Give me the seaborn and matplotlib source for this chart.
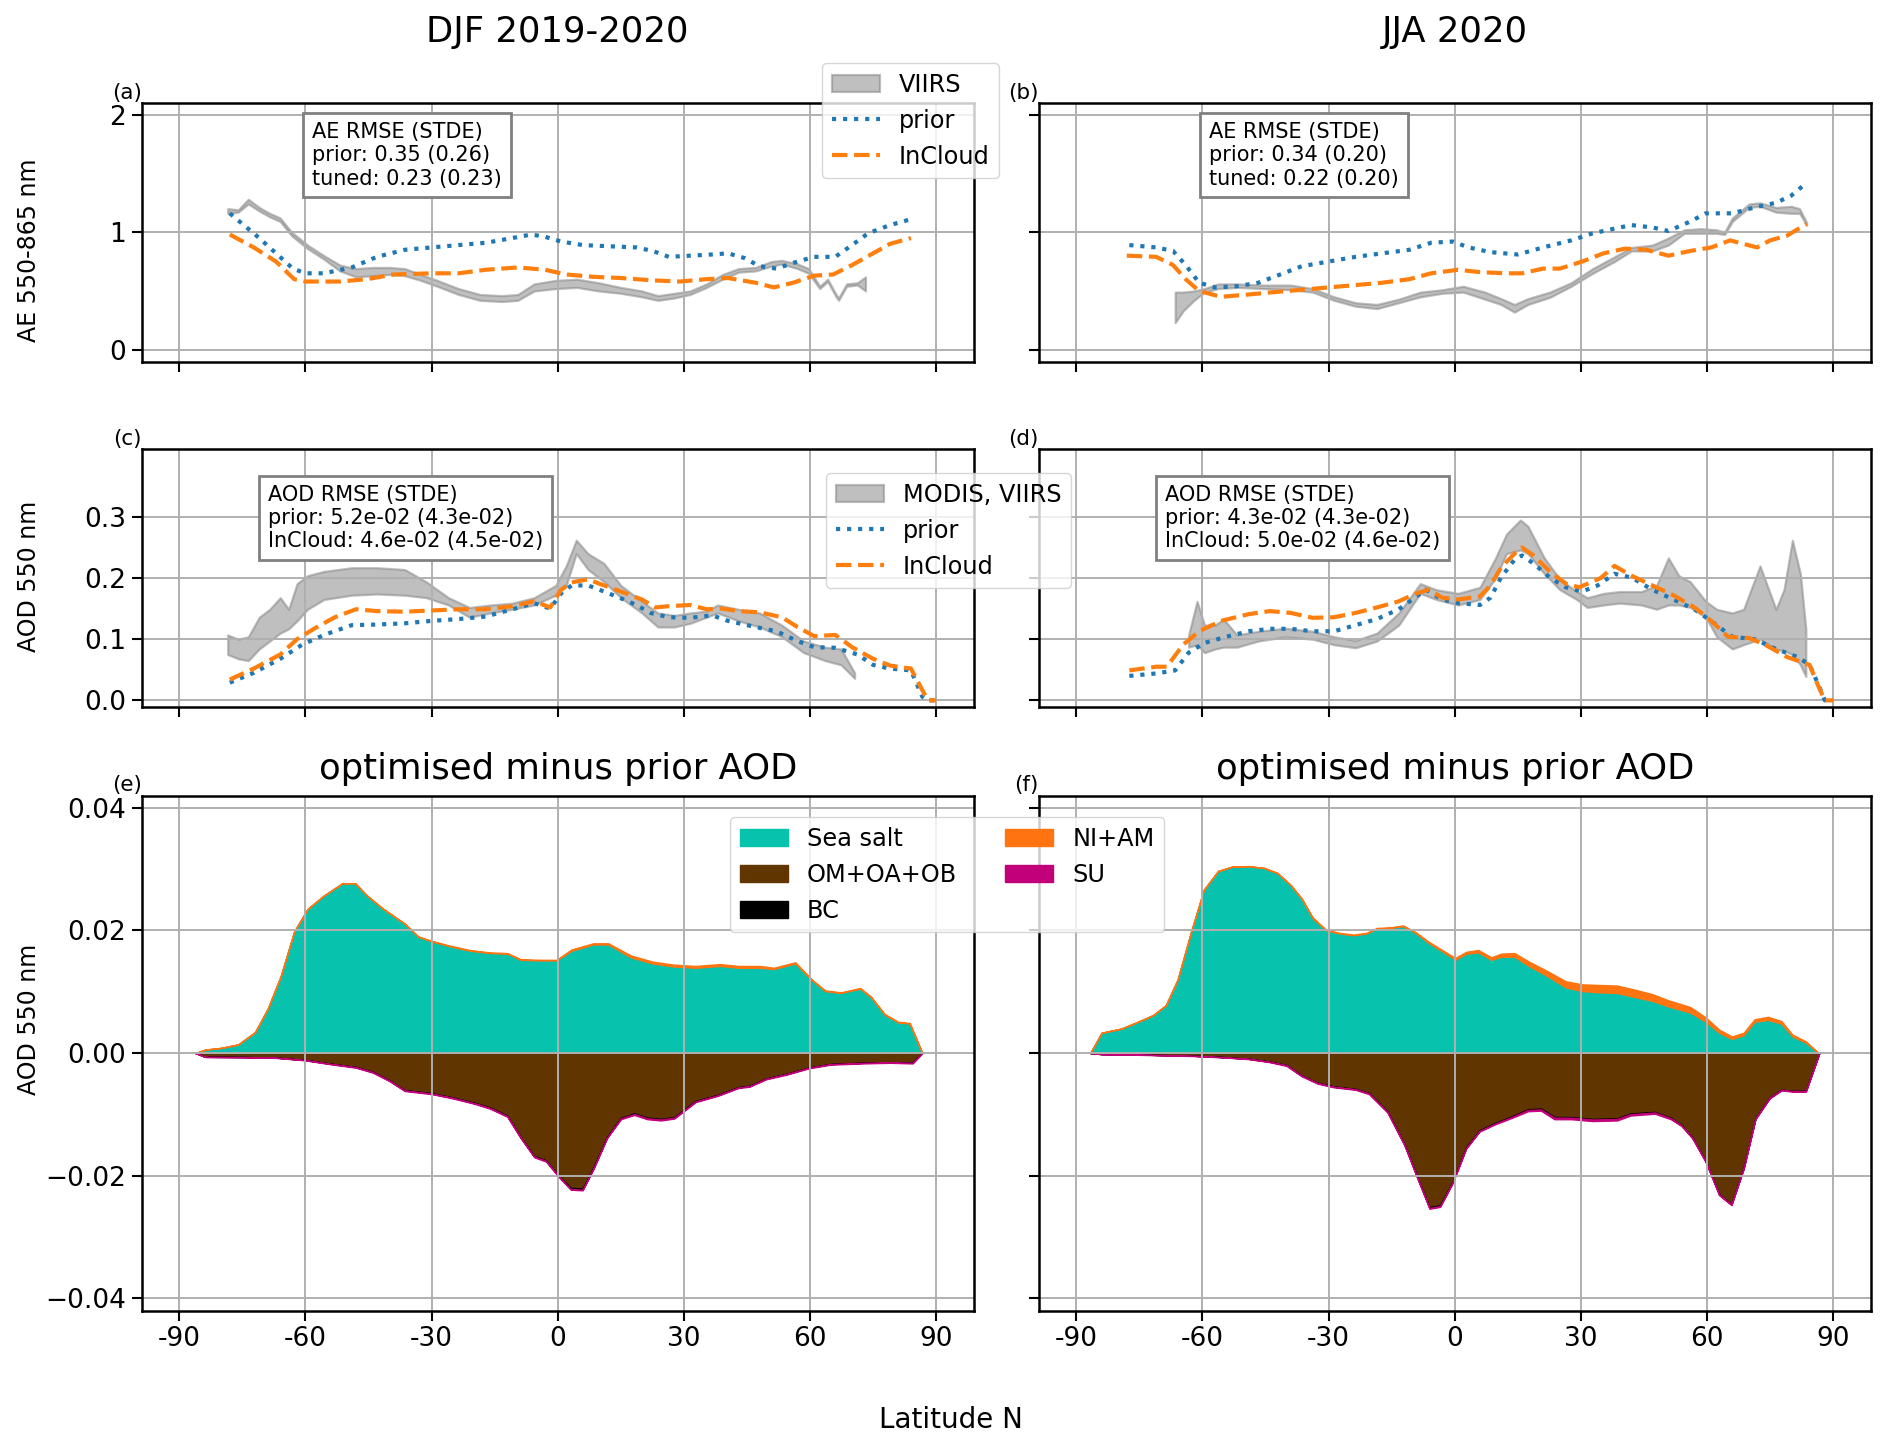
import numpy as np
import matplotlib
matplotlib.use("Agg")
import matplotlib.pyplot as plt
import seaborn as sns

# ---------------- data ----------------
lat_ticks = [-90, -60, -30, 0, 30, 60, 90]
lat_tick_labels = ["-90", "-60", "-30", "0", "30", "60", "90"]

# (a) DJF AE
ae_djf_prior_lat = [-78, -71, -63, -60, -55.6, -49, -43, -36.4, -30, -23.6, -17, -10.8, -6.3, -3, 0.8, 6, 12.3,
                    18.7, 22.6, 26.4, 31.5, 36.7, 40.5, 44.4, 48, 52, 57, 61, 66, 70, 73.8, 79, 84]
ae_djf_prior = [1.16, 0.95, 0.69, 0.65, 0.65, 0.70, 0.79, 0.85, 0.87, 0.89, 0.91, 0.95, 0.98, 0.96, 0.92, 0.89, 0.88,
                0.87, 0.84, 0.79, 0.80, 0.81, 0.82, 0.78, 0.71, 0.69, 0.75, 0.79, 0.79, 0.89, 0.99, 1.06, 1.11]
ae_djf_incloud_lat = [-78, -72.3, -67, -62.7, -60, -51.8, -45.4, -39, -30, -23.6, -17.2, -9.5, -3, 2, 8.5, 15, 22.6,
                      29, 35.4, 40.5, 47, 51.4, 56, 61, 65.5, 70, 75, 79, 84]
ae_djf_incloud = [0.98, 0.87, 0.75, 0.60, 0.58, 0.58, 0.60, 0.64, 0.65, 0.65, 0.68, 0.70, 0.68, 0.64, 0.62, 0.61, 0.59,
                  0.58, 0.60, 0.61, 0.57, 0.53, 0.57, 0.63, 0.64, 0.72, 0.82, 0.90, 0.95]
viirs_djf_lat = [-78.5, -76, -73.6, -71, -68.5, -66, -63.3, -59.5, -55.6, -51.8, -48, -44, -40, -36.4, -32.6, -28.7,
                 -23.6, -18.5, -13.3, -9.5, -5.6, -0.5, 4.6, 9.7, 15, 20, 23.8, 27.7, 31.5, 35.4, 39.2, 43, 47, 50.8,
                 53.3, 57, 59.7, 62.3, 64.2, 66.2, 66.8, 68.7, 71.3, 73.2]
viirs_djf_lo = [1.16, 1.17, 1.24, 1.18, 1.13, 1.09, 0.97, 0.86, 0.77, 0.67, 0.62, 0.63, 0.64, 0.63, 0.59, 0.54,
                0.47, 0.42, 0.41, 0.42, 0.50, 0.52, 0.53, 0.50, 0.48, 0.45, 0.42, 0.44, 0.47, 0.53, 0.60, 0.66, 0.67,
                0.71, 0.73, 0.69, 0.65, 0.52, 0.58, 0.45, 0.42, 0.54, 0.55, 0.50]
viirs_djf_hi = [1.20, 1.19, 1.28, 1.21, 1.16, 1.12, 1.00, 0.89, 0.80, 0.72, 0.69, 0.70, 0.70, 0.69, 0.64, 0.59,
                0.52, 0.47, 0.46, 0.47, 0.56, 0.59, 0.60, 0.57, 0.53, 0.50, 0.46, 0.48, 0.50, 0.56, 0.64, 0.69, 0.70,
                0.75, 0.76, 0.73, 0.69, 0.54, 0.60, 0.47, 0.44, 0.56, 0.57, 0.62]

# (b) JJA AE
ae_jja_prior_lat = [-77.4, -71, -67, -64, -60.8, -57, -51.8, -46.7, -41.5, -36.4, -30, -23.6, -17.2, -10.8, -5.6,
                    -0.5, 3.3, 8.5, 15, 21, 27.7, 32.8, 38, 42, 47, 50.8, 56, 59.7, 66, 71.3, 76.4, 80, 83.7]
ae_jja_prior = [0.89, 0.87, 0.84, 0.72, 0.57, 0.53, 0.54, 0.57, 0.64, 0.71, 0.75, 0.79, 0.82, 0.85, 0.91, 0.92, 0.87,
                0.83, 0.81, 0.87, 0.93, 0.99, 1.03, 1.06, 1.04, 1.01, 1.09, 1.16, 1.16, 1.21, 1.25, 1.31, 1.42]
ae_jja_incloud_lat = [-78, -71, -67, -64, -60.8, -55.6, -49, -43, -36.4, -30, -23.6, -17.2, -10.8, -5.6, 0.8, 6,
                      12.3, 16, 21, 25, 30.3, 35.4, 40.5, 45.6, 50.8, 56, 61, 65.5, 68.7, 71.9, 75, 79, 83.7]
ae_jja_incloud = [0.80, 0.79, 0.72, 0.60, 0.50, 0.45, 0.47, 0.49, 0.51, 0.53, 0.55, 0.57, 0.60, 0.65, 0.68, 0.66,
                  0.65, 0.65, 0.69, 0.69, 0.75, 0.82, 0.86, 0.85, 0.80, 0.84, 0.87, 0.93, 0.90, 0.87, 0.93, 0.97, 1.07]
viirs_jja_lat = [-66.5, -64.6, -62, -59.5, -56.3, -51.8, -45.4, -39, -33.8, -28.7, -23.6, -18.5, -13.3, -8.2, -3, 2,
                 7.2, 11, 14.2, 17.4, 22.6, 27.7, 32.8, 38, 42, 47, 50.8, 54.6, 58.5, 62.3, 64.2, 66, 70, 72.6, 76.4,
                 80, 82, 83.7]
viirs_jja_lo = [0.23, 0.33, 0.42, 0.49, 0.52, 0.53, 0.52, 0.51, 0.49, 0.42, 0.37, 0.35, 0.40, 0.45, 0.48, 0.49,
                0.43, 0.385, 0.32, 0.385, 0.445, 0.54, 0.65, 0.75, 0.84, 0.84, 0.89, 0.99, 0.99, 0.99, 0.98, 1.09,
                1.21, 1.22, 1.17, 1.16, 1.16, 1.06]
viirs_jja_hi = [0.49, 0.49, 0.50, 0.52, 0.56, 0.56, 0.55, 0.55, 0.52, 0.45, 0.40, 0.385, 0.43, 0.49, 0.51, 0.54,
                0.49, 0.435, 0.385, 0.435, 0.49, 0.57, 0.69, 0.79, 0.87, 0.89, 0.95, 1.02, 1.03, 1.02, 1.00, 1.12,
                1.24, 1.25, 1.21, 1.22, 1.20, 1.08]

# (c) DJF AOD
aod_djf_prior_lat = [-78, -72.3, -66, -60.8, -55.6, -49, -43, -36.4, -30, -23.6, -17.2, -10.8, -5.6, -1.8, 0.8, 3.3,
                     7.2, 11, 15, 18.7, 22, 26.4, 31.5, 36.7, 40.5, 47, 52, 57, 61, 66, 71.3, 75, 79, 84, 86.7, 88, 90]
aod_djf_prior = [0.029, 0.045, 0.068, 0.091, 0.107, 0.123, 0.124, 0.126, 0.130, 0.133, 0.137, 0.149, 0.159, 0.150,
                 0.175, 0.188, 0.188, 0.178, 0.167, 0.156, 0.143, 0.136, 0.135, 0.139, 0.130, 0.120, 0.113, 0.097,
                 0.087, 0.086, 0.075, 0.058, 0.052, 0.049, 0.006, 0.0, 0.0]
aod_djf_incloud_lat = [-78, -72.3, -66, -62, -58, -53, -48, -43, -36.4, -30, -23.6, -17.2, -10.8, -5.6, -1.8, 0.8,
                       3.3, 7.2, 11, 15, 20, 23.2, 26.4, 31.5, 35.4, 39.2, 43, 48, 53.3, 57, 61, 66, 70, 75, 79, 84,
                       86, 88, 90]
aod_djf_incloud = [0.034, 0.052, 0.075, 0.100, 0.117, 0.136, 0.149, 0.146, 0.145, 0.147, 0.149, 0.149, 0.154, 0.162,
                   0.152, 0.181, 0.193, 0.198, 0.188, 0.178, 0.165, 0.152, 0.154, 0.156, 0.149, 0.150, 0.146, 0.144,
                   0.136, 0.120, 0.105, 0.107, 0.087, 0.068, 0.057, 0.052, 0.026, 0.0, 0.0]
modis_djf_lat = [-78.5, -76, -73.6, -71, -68.5, -66, -64, -62, -59.5, -55.6, -49, -43, -36.4, -31.3, -26, -21, -16,
                 -10.8, -5.6, -0.5, 2, 4.4, 7.2, 11, 15, 20, 23.8, 27.7, 31.5, 35.4, 38, 43, 48, 53.3, 58.5, 63.6,
                 67.4, 70.6]
modis_djf_lo = [0.075, 0.068, 0.065, 0.084, 0.097, 0.110, 0.117, 0.130, 0.149, 0.165, 0.172, 0.174, 0.172, 0.168,
                0.156, 0.136, 0.143, 0.149, 0.156, 0.172, 0.188, 0.240, 0.214, 0.194, 0.168, 0.143, 0.120, 0.120,
                0.126, 0.136, 0.143, 0.130, 0.120, 0.104, 0.078, 0.065, 0.058, 0.036]
modis_djf_hi = [0.107, 0.100, 0.104, 0.136, 0.149, 0.168, 0.149, 0.191, 0.204, 0.211, 0.217, 0.217, 0.214, 0.194,
                0.168, 0.152, 0.156, 0.159, 0.168, 0.188, 0.220, 0.262, 0.240, 0.224, 0.188, 0.162, 0.143, 0.139,
                0.143, 0.146, 0.156, 0.149, 0.143, 0.123, 0.097, 0.087, 0.084, 0.045]

# (d) JJA AOD
aod_jja_prior_lat = [-77.4, -71, -66.5, -63.3, -59.5, -54.4, -49, -44, -39, -33.8, -28.7, -23.6, -18.5, -13.3, -9.5,
                     -6.9, -3, 0.8, 6, 8.5, 11, 14.2, 16, 18.7, 22.6, 26.4, 30.3, 34, 38, 42, 47, 52, 57, 62.3, 66,
                     71.3, 76.4, 81.5, 84.4, 86.9, 88, 90]
aod_jja_prior = [0.040, 0.044, 0.049, 0.078, 0.094, 0.104, 0.113, 0.117, 0.117, 0.113, 0.113, 0.123, 0.133, 0.149,
                 0.168, 0.181, 0.165, 0.159, 0.156, 0.168, 0.201, 0.230, 0.237, 0.224, 0.201, 0.185, 0.178, 0.188,
                 0.207, 0.201, 0.181, 0.165, 0.149, 0.123, 0.104, 0.100, 0.084, 0.071, 0.058, 0.019, 0.0, 0.0]
aod_jja_incloud_lat = [-77.4, -71, -68.5, -64.6, -60.8, -55.6, -49, -44, -39, -33.8, -28.7, -23.6, -18.5, -13.3,
                       -9.5, -6.3, -3, 0.8, 6, 8.5, 11, 14.2, 16, 18.7, 22.6, 26.4, 29.6, 34.7, 38, 42, 47, 52, 57,
                       61, 65, 70, 73.8, 79, 84.4, 86.3, 88, 90]
aod_jja_incloud = [0.049, 0.055, 0.055, 0.091, 0.113, 0.130, 0.141, 0.146, 0.143, 0.135, 0.136, 0.143, 0.152, 0.162,
                   0.174, 0.181, 0.168, 0.165, 0.170, 0.188, 0.217, 0.240, 0.250, 0.237, 0.211, 0.191, 0.185, 0.200,
                   0.220, 0.204, 0.188, 0.172, 0.152, 0.130, 0.104, 0.102, 0.091, 0.071, 0.058, 0.026, 0.0, 0.0]
modis_jja_lat = [-63.3, -61.3, -59.5, -57, -55, -51.8, -46.7, -40.3, -33.8, -28.7, -23.6, -18.5, -13.3, -8.2, -4.4,
                 0.8, 6, 9.7, 12.3, 15.6, 17.4, 21.3, 25, 29, 31.5, 35.4, 39.2, 44.4, 48, 50.8, 53.3, 56, 59.7, 62.3,
                 66, 68.7, 72.6, 76.4, 78.3, 80.3, 82.2, 83.5]
modis_jja_lo = [0.087, 0.091, 0.078, 0.084, 0.087, 0.087, 0.097, 0.104, 0.100, 0.091, 0.086, 0.097, 0.123, 0.175,
                0.165, 0.156, 0.165, 0.200, 0.240, 0.246, 0.240, 0.207, 0.181, 0.165, 0.152, 0.156, 0.159, 0.156,
                0.149, 0.156, 0.156, 0.152, 0.136, 0.104, 0.084, 0.091, 0.100, 0.084, 0.081, 0.075, 0.058, 0.039]
modis_jja_hi = [0.107, 0.162, 0.123, 0.123, 0.133, 0.107, 0.113, 0.118, 0.113, 0.104, 0.098, 0.110, 0.143, 0.191,
                0.181, 0.175, 0.185, 0.233, 0.272, 0.295, 0.285, 0.233, 0.198, 0.178, 0.168, 0.175, 0.178, 0.178,
                0.188, 0.233, 0.204, 0.194, 0.162, 0.149, 0.143, 0.149, 0.220, 0.149, 0.181, 0.262, 0.207, 0.117]

# (e) DJF optimised minus prior AOD by species
comp_djf_pos_lat = [-86.2, -83.8, -80, -76, -72, -69, -65.9, -62.7, -59.5, -55.6, -51.2, -48.2, -45.4, -41.5, -36.4,
                    -33.2, -30, -26.2, -21, -16, -12, -8.8, -4.4, -0.3, 3.3, 8.5, 12, 17.4, 22.6, 27.7, 32.8, 38.6,
                    43, 48, 51.4, 56.5, 60.4, 63.6, 67.4, 71.9, 74.5, 77.7, 80.9, 83.7, 86.7]
seasalt_djf = [0, 0.00056, 0.00084, 0.0014, 0.0034, 0.0072, 0.0125, 0.0198, 0.0235, 0.0257, 0.0277, 0.0277, 0.0257,
               0.0235, 0.0211, 0.019, 0.0182, 0.0175, 0.0167, 0.0163, 0.0162, 0.0152, 0.0151, 0.0151, 0.0167,
               0.0177, 0.0177, 0.0156, 0.0146, 0.0141, 0.0139, 0.0142, 0.0139, 0.0139, 0.0137, 0.0146, 0.0119,
               0.0101, 0.0098, 0.0105, 0.0091, 0.0063, 0.005, 0.0048, 0]
niam_djf = [0, 0, 0, 0, 0, 0, 0, 0, 0, 0, 0, 0, 0, 0, 0, 0, 0.0001, 0.0001, 0.0001, 0.0001, 0.0001, 0.0001, 0.0001,
            0.0001, 0.0002, 0.0002, 0.0002, 0.0003, 0.0003, 0.0003, 0.0003, 0.0003, 0.0003, 0.0003, 0.0002, 0.0002,
            0.0001, 0.0001, 0.0001, 0.0001, 0.0001, 0.0001, 0.0001, 0.0001, 0]
comp_djf_neg_lat = [-86.2, -83.8, -75, -67, -60, -54.4, -48, -44, -40, -36.4, -30, -25, -19.7, -16, -12, -8.8, -5.6,
                    -2.8, 0.1, 3.1, 5.9, 8.5, 11.7, 15, 18.2, 21.3, 24.5, 27.7, 32.8, 38, 43, 45.6, 49.5, 54.6, 59.7,
                    64.9, 72.6, 79, 84.4, 86.7]
om_djf = [0, -0.00062, -0.00065, -0.00075, -0.00115, -0.0017, -0.00227, -0.00307, -0.00446, -0.00605, -0.00655,
          -0.00724, -0.00812, -0.0089, -0.0102, -0.0137, -0.0168, -0.0175, -0.01988, -0.022, -0.0221, -0.01865,
          -0.0137, -0.01058, -0.00983, -0.01053, -0.01075, -0.01045, -0.0078, -0.00684, -0.00555, -0.00535,
          -0.00416, -0.00337, -0.00237, -0.00178, -0.00158, -0.00148, -0.00158, 0]
bc_djf = [0, 0, 0, 0, 0, -0.00002, -0.00003, -0.00003, -0.00004, -0.00005, -0.00005, -0.00006, -0.00008, -0.0001,
          -0.0001, -0.0001, -0.0001, -0.0001, -0.00012, -0.0002, -0.0002, -0.00015, -0.0001, -0.0001, -0.00012,
          -0.00012, -0.0001, -0.0001, -0.00008, -0.00006, -0.00005, -0.00005, -0.00004, -0.00003, -0.00003,
          -0.00002, -0.00002, -0.00002, -0.00002, 0]
su_djf = [0, -0.00005, -0.00005, -0.00005, -0.00005, -0.00008, -0.0001, -0.0001, -0.0001, -0.0001, -0.0001, -0.0001,
          -0.0001, -0.0001, -0.0001, -0.0001, -0.0001, -0.0001, -0.0001, -0.0001, -0.0001, -0.0001, -0.0001,
          -0.00012, -0.00015, -0.00015, -0.00015, -0.00015, -0.00012, -0.0001, -0.0001, -0.0001, -0.0001, -0.0001,
          -0.0001, -0.0001, -0.0001, -0.0001, -0.0001, 0]

# (f) JJA optimised minus prior AOD by species
comp_jja_pos_lat = [-86.7, -84, -79.2, -75, -71.7, -68.7, -65.9, -62.7, -59.7, -56.3, -53, -49.2, -45.4, -42.2, -39,
                    -36.4, -33.8, -30.6, -27.4, -24.1, -21, -18.5, -15.3, -12.3, -9.5, -6.3, -3, 0.1, 2.7, 5.6, 8.7,
                    11, 14.2, 17.4, 21.9, 26.4, 30.3, 34.2, 38.6, 42.4, 47, 50.8, 56, 59.7, 62.9, 65.9, 68.7, 71.3,
                    74.5, 77.7, 80.3, 83.5, 86.5]
seasalt_jja = [0, 0.0033, 0.004, 0.0052, 0.0062, 0.0078, 0.012, 0.0198, 0.0266, 0.02967, 0.03037, 0.03047, 0.03017,
               0.02935, 0.02735, 0.02515, 0.022, 0.02, 0.0195, 0.0192, 0.0195, 0.0203, 0.0204, 0.0207, 0.01965,
               0.018, 0.0166, 0.0152, 0.0162, 0.0164, 0.0152, 0.0157, 0.0157, 0.0143, 0.0126, 0.0107, 0.0101,
               0.0099, 0.0098, 0.0092, 0.0085, 0.0076, 0.0066, 0.0051, 0.0033, 0.0023, 0.0029, 0.0051, 0.0054,
               0.0048, 0.0027, 0.0017, 0]
niam_jja = [0, 0, 0, 0, 0, 0, 0, 0, 0, 0.00003, 0.00003, 0.00003, 0.00003, 0.00005, 0.00005, 0.00005, 0.0001, 0.0001,
            0.0001, 0.0001, 0.0001, 0.0001, 0.0001, 0.0001, 0.00015, 0.0002, 0.0002, 0.0003, 0.0003, 0.0004, 0.0004,
            0.0005, 0.0006, 0.0007, 0.0008, 0.001, 0.0011, 0.0012, 0.0012, 0.0012, 0.0011, 0.001, 0.0009, 0.0007,
            0.0005, 0.0004, 0.0004, 0.0004, 0.0005, 0.0004, 0.0003, 0.0002, 0]
comp_jja_neg_lat = [-86.7, -84, -75, -62, -55.6, -49, -44, -40, -36.4, -32.6, -28.7, -23.6, -20.4, -16, -12, -8.8, -6,
                    -3.5, -0.5, 2.7, 5.9, 9.7, 13.5, 17.4, 20.5, 23.7, 27.7, 32.8, 38.6, 41.8, 47.6, 51.4, 53.9, 56.5,
                    59.7, 62.9, 65.8, 68.7, 71.5, 74.9, 77.7, 80.3, 83.5, 86.7]
om_jja = [0, -0.00017, -0.00025, -0.00045, -0.00065, -0.00094, -0.0014, -0.00197, -0.00366, -0.00485, -0.00545,
          -0.00585, -0.00652, -0.00952, -0.0148, -0.0204, -0.02513, -0.02483, -0.021, -0.0154, -0.0126, -0.01138,
          -0.01033, -0.00918, -0.00905, -0.01043, -0.01045, -0.01075, -0.01065, -0.00986, -0.0096, -0.01057,
          -0.01172, -0.01375, -0.01765, -0.02306, -0.02466, -0.01877, -0.01067, -0.00728, -0.00598, -0.00618,
          -0.00618, 0]
bc_jja = [0, 0, 0, 0, 0, 0, -0.00002, -0.00003, -0.00004, -0.00005, -0.00005, -0.00005, -0.00006, -0.00008, -0.0001,
          -0.0001, -0.00015, -0.00015, -0.0001, -0.0001, -0.0001, -0.0001, -0.00012, -0.00012, -0.00015, -0.00012,
          -0.0001, -0.0001, -0.0001, -0.00012, -0.0001, -0.00008, -0.00006, -0.00005, -0.00005, -0.00004, -0.00004,
          -0.00003, -0.00003, -0.00002, -0.00002, -0.00002, -0.00002, 0]
su_jja = [0, -0.00003, -0.00005, -0.00005, -0.00005, -0.00006, -0.00008, -0.0001, -0.0001, -0.0001, -0.0001, -0.0001,
          -0.00012, -0.0001, -0.0001, -0.0001, -0.00012, -0.00012, -0.0001, -0.0001, -0.0001, -0.00012, -0.00015,
          -0.0002, -0.0002, -0.00025, -0.00025, -0.00025, -0.00025, -0.00022, -0.0002, -0.00015, -0.00012, -0.0001,
          -0.0001, -0.0001, -0.0001, -0.0001, -0.0001, -0.0001, -0.0001, -0.0001, -0.0001, 0]

season_titles = ["DJF 2019-2020", "JJA 2020"]
panel_letters = ["(a)", "(b)", "(c)", "(d)", "(e)", "(f)"]
ae_box_texts = ["AE RMSE (STDE)\nprior: 0.35 (0.26)\ntuned: 0.23 (0.23)",
                "AE RMSE (STDE)\nprior: 0.34 (0.20)\ntuned: 0.22 (0.20)"]
aod_box_texts = ["AOD RMSE (STDE)\nprior: 5.2e-02 (4.3e-02)\nInCloud: 4.6e-02 (4.5e-02)",
                 "AOD RMSE (STDE)\nprior: 4.3e-02 (4.3e-02)\nInCloud: 5.0e-02 (4.6e-02)"]
species_names = ["Sea salt", "OM+OA+OB", "BC", "NI+AM", "SU"]
species_colors = ["#07C2AD", "#613500", "#000000", "#FF7410", "#C2007A"]

# ---------------- style ----------------
plt.rcParams["font.family"] = ["DejaVu Sans"]
C_PRIOR = "#1f77b4"
C_INC = "#ff7f0e"
TICK_FS = 19
LEG_FS = 17.3
LW = 3.0
BOX_FS = 15

fig = plt.figure(figsize=(18.92, 14.5), dpi=100)
W, H = 1892.0, 1450.0
cols_px = [(141.5, 974.0), (1038.5, 1871.0)]
rows_px = [(102.8, 361.5), (448.8, 707.5), (795.5, 1310.5)]

axes = [[None, None], [None, None], [None, None]]
for r, (t, b) in enumerate(rows_px):
    for c, (l, rr) in enumerate(cols_px):
        ax = fig.add_axes([l / W, 1 - b / H, (rr - l) / W, (b - t) / H])
        axes[r][c] = ax


def style_axis(ax, show_x, show_y):
    ax.set_xlim(-99, 99)
    ax.set_xticks(lat_ticks)
    ax.set_xticklabels(lat_tick_labels)
    ax.grid(True, color="#b0b0b0", linewidth=1.4)
    ax.tick_params(labelsize=TICK_FS, length=7.5, width=1.5, labelbottom=show_x, labelleft=show_y)
    for sp in ax.spines.values():
        sp.set_linewidth(1.8)
    ax.set_xlabel("")
    ax.set_ylabel("")


band_handles = []
line_handles = []
ae_sets = [
    (viirs_djf_lat, viirs_djf_lo, viirs_djf_hi, ae_djf_prior_lat, ae_djf_prior, ae_djf_incloud_lat, ae_djf_incloud),
    (viirs_jja_lat, viirs_jja_lo, viirs_jja_hi, ae_jja_prior_lat, ae_jja_prior, ae_jja_incloud_lat, ae_jja_incloud),
]
aod_sets = [
    (modis_djf_lat, modis_djf_lo, modis_djf_hi, aod_djf_prior_lat, aod_djf_prior, aod_djf_incloud_lat,
     aod_djf_incloud),
    (modis_jja_lat, modis_jja_lo, modis_jja_hi, aod_jja_prior_lat, aod_jja_prior, aod_jja_incloud_lat,
     aod_jja_incloud),
]

for r, sets in enumerate([ae_sets, aod_sets]):
    for c in range(2):
        ax = axes[r][c]
        blat, blo, bhi, plat, pv, ilat, iv = sets[c]
        band = ax.fill_between(blat, blo, bhi, color="gray", alpha=0.5, linewidth=1.6)
        sns.lineplot(x=plat, y=pv, ax=ax, color=C_PRIOR, linestyle=":", linewidth=LW)
        hp = ax.lines[-1]
        sns.lineplot(x=ilat, y=iv, ax=ax, color=C_INC, linestyle="--", linewidth=LW)
        hi = ax.lines[-1]
        if c == 0:
            band_handles.append(band)
            line_handles.append((hp, hi))
        style_axis(ax, show_x=False, show_y=(c == 0))
        if r == 0:
            ax.set_ylim(-0.1, 2.1)
            ax.set_yticks([0, 1, 2])
            ax.text(0.205, 0.925, ae_box_texts[c], transform=ax.transAxes, ha="left", va="top", fontsize=BOX_FS,
                    bbox=dict(boxstyle="square,pad=0.42", facecolor="white", edgecolor="gray", linewidth=2))
        else:
            ax.set_ylim(-0.0117, 0.4115)
            ax.set_yticks([0.0, 0.1, 0.2, 0.3])
            ax.text(0.152, 0.862, aod_box_texts[c], transform=ax.transAxes, ha="left", va="top", fontsize=BOX_FS,
                    bbox=dict(boxstyle="square,pad=0.42", facecolor="white", edgecolor="gray", linewidth=2))

comp_sets = [
    (comp_djf_pos_lat, seasalt_djf, niam_djf, comp_djf_neg_lat, om_djf, bc_djf, su_djf),
    (comp_jja_pos_lat, seasalt_jja, niam_jja, comp_jja_neg_lat, om_jja, bc_jja, su_jja),
]
species_handles = {}
for c in range(2):
    ax = axes[2][c]
    plat, ss, ni, nlat, om, bc, su = comp_sets[c]
    ss_a = np.array(ss)
    ni_a = np.array(ni)
    om_a = np.array(om)
    bc_a = np.array(bc)
    su_a = np.array(su)
    h_ss = ax.fill_between(plat, 0, ss_a, color=species_colors[0], label=species_names[0])
    h_ni = ax.fill_between(plat, ss_a, ss_a + ni_a, color=species_colors[3], label=species_names[3])
    h_om = ax.fill_between(nlat, 0, om_a, color=species_colors[1], label=species_names[1])
    h_bc = ax.fill_between(nlat, om_a, om_a + bc_a, color=species_colors[2], label=species_names[2])
    h_su = ax.fill_between(nlat, om_a + bc_a, om_a + bc_a + su_a, color=species_colors[4], label=species_names[4])
    if c == 0:
        species_handles = {"Sea salt": h_ss, "OM+OA+OB": h_om, "BC": h_bc, "NI+AM": h_ni, "SU": h_su}
    style_axis(ax, show_x=True, show_y=(c == 0))
    ax.set_ylim(-0.042, 0.042)
    ax.set_yticks([-0.04, -0.02, 0.0, 0.02, 0.04])
    ax.set_title("optimised minus prior AOD", fontsize=25.5, pad=12)

# panel letters
k = 0
for r in range(3):
    for c in range(2):
        axes[r][c].text(0.0, 1.0, panel_letters[k], transform=axes[r][c].transAxes, ha="right", va="bottom",
                        fontsize=15.5)
        k += 1

# y labels
ylab = [("AE 550-865 nm", 0.429), ("AOD 550 nm", 0.508), ("AOD 550 nm", 0.565)]
for r in range(3):
    axes[r][0].set_ylabel(ylab[r][0], fontsize=17)
    axes[r][0].yaxis.set_label_coords(-0.121, ylab[r][1])

# column titles and x label
fig.text(0.2947, 0.978, season_titles[0], ha="center", va="center", fontsize=25.5)
fig.text(0.769, 0.978, season_titles[1], ha="center", va="center", fontsize=25.5)
fig.text(0.5026, 0.0207, "Latitude N", ha="center", va="center", fontsize=20)

# legends
fig.legend([band_handles[0], line_handles[0][0], line_handles[0][1]], ["VIIRS", "prior", "InCloud"],
           loc="upper left", bbox_to_anchor=(822 / W, 1 - 63 / H), bbox_transform=fig.transFigure,
           borderaxespad=0, fontsize=LEG_FS)
fig.legend([band_handles[1], line_handles[1][0], line_handles[1][1]], ["MODIS, VIIRS", "prior", "InCloud"],
           loc="upper left", bbox_to_anchor=(826 / W, 1 - 473 / H), bbox_transform=fig.transFigure,
           borderaxespad=0, fontsize=LEG_FS)
fig.legend([species_handles[n] for n in species_names], species_names, ncol=2,
           loc="upper left", bbox_to_anchor=(730 / W, 1 - 817 / H), bbox_transform=fig.transFigure,
           borderaxespad=0, fontsize=LEG_FS)

fig.savefig("out.png", dpi=100)
